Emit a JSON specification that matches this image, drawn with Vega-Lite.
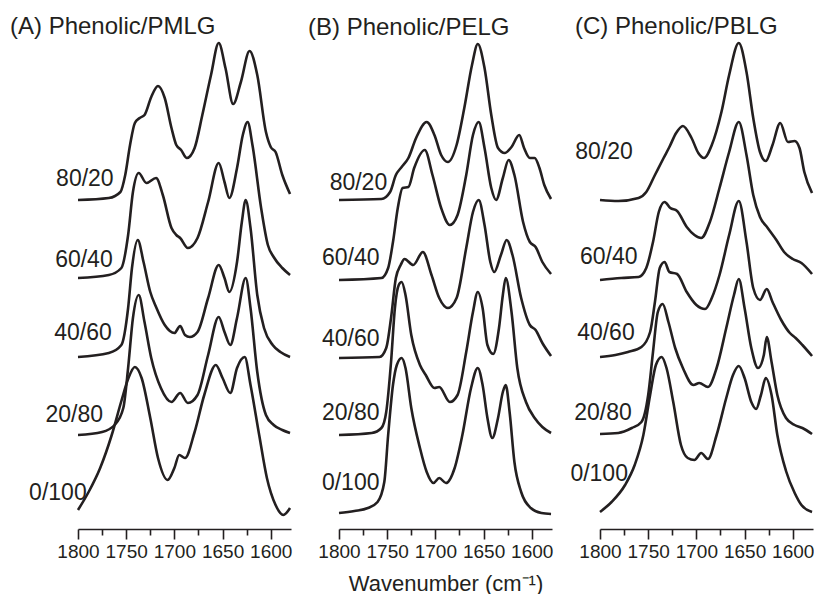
{
"$schema": "https://vega.github.io/schema/vega-lite/v6.json",
"padding": {"left": 10, "top": 14, "right": 0, "bottom": 0},
"background": "white",
"bounds": "flush",
"spacing": 48,
"config": {
 "view": {"stroke": null},
 "font": "Liberation Sans",
 "axisX": {
  "grid": false,
  "domainColor": "#231f20", "domainWidth": 1.6,
  "tickColor": "#231f20", "tickWidth": 1.6,
  "labelFontSize": 19, "labelColor": "#231f20", "labelPadding": 3,
  "labelFlush": false, "labelOverlap": false,
  "titleFontSize": 22, "titleFontWeight": "normal", "titleColor": "#231f20", "titlePadding": 12
 },
 "title": {"fontSize": 24, "fontWeight": "normal", "color": "#231f20", "anchor": "start", "frame": "group", "baseline": "alphabetic", "offset": -1}
},
"datasets": {
 "spectra": [
  {"p":"A","r":"80/20","wn":1800,"a":329},{"p":"A","r":"80/20","wn":1768,"a":331},{"p":"A","r":"80/20","wn":1756,"a":337},{"p":"A","r":"80/20","wn":1751,"a":354},{"p":"A","r":"80/20","wn":1746,"a":384},{"p":"A","r":"80/20","wn":1741,"a":406},{"p":"A","r":"80/20","wn":1736,"a":411},{"p":"A","r":"80/20","wn":1731,"a":414},{"p":"A","r":"80/20","wn":1724,"a":432},{"p":"A","r":"80/20","wn":1717,"a":443},{"p":"A","r":"80/20","wn":1710,"a":431},{"p":"A","r":"80/20","wn":1703,"a":401},{"p":"A","r":"80/20","wn":1698,"a":384},{"p":"A","r":"80/20","wn":1693,"a":379},{"p":"A","r":"80/20","wn":1687,"a":371},{"p":"A","r":"80/20","wn":1679,"a":381},{"p":"A","r":"80/20","wn":1671,"a":414},{"p":"A","r":"80/20","wn":1662,"a":454},{"p":"A","r":"80/20","wn":1654,"a":486},{"p":"A","r":"80/20","wn":1647,"a":461},{"p":"A","r":"80/20","wn":1639,"a":425},{"p":"A","r":"80/20","wn":1631,"a":447},{"p":"A","r":"80/20","wn":1622,"a":478},{"p":"A","r":"80/20","wn":1614,"a":454},{"p":"A","r":"80/20","wn":1605,"a":397},{"p":"A","r":"80/20","wn":1600,"a":382},{"p":"A","r":"80/20","wn":1595,"a":377},{"p":"A","r":"80/20","wn":1588,"a":354},{"p":"A","r":"80/20","wn":1580,"a":335},
  {"p":"A","r":"60/40","wn":1800,"a":251},{"p":"A","r":"60/40","wn":1768,"a":254},{"p":"A","r":"60/40","wn":1755,"a":261},{"p":"A","r":"60/40","wn":1748,"a":294},{"p":"A","r":"60/40","wn":1743,"a":337},{"p":"A","r":"60/40","wn":1737,"a":356},{"p":"A","r":"60/40","wn":1729,"a":346},{"p":"A","r":"60/40","wn":1719,"a":351},{"p":"A","r":"60/40","wn":1712,"a":334},{"p":"A","r":"60/40","wn":1703,"a":301},{"p":"A","r":"60/40","wn":1698,"a":294},{"p":"A","r":"60/40","wn":1694,"a":291},{"p":"A","r":"60/40","wn":1686,"a":281},{"p":"A","r":"60/40","wn":1676,"a":291},{"p":"A","r":"60/40","wn":1665,"a":327},{"p":"A","r":"60/40","wn":1654,"a":366},{"p":"A","r":"60/40","wn":1648,"a":347},{"p":"A","r":"60/40","wn":1643,"a":331},{"p":"A","r":"60/40","wn":1635,"a":361},{"p":"A","r":"60/40","wn":1629,"a":394},{"p":"A","r":"60/40","wn":1624,"a":407},{"p":"A","r":"60/40","wn":1619,"a":384},{"p":"A","r":"60/40","wn":1610,"a":321},{"p":"A","r":"60/40","wn":1603,"a":284},{"p":"A","r":"60/40","wn":1597,"a":272},{"p":"A","r":"60/40","wn":1588,"a":261},{"p":"A","r":"60/40","wn":1580,"a":254},
  {"p":"A","r":"40/60","wn":1800,"a":172},{"p":"A","r":"40/60","wn":1768,"a":176},{"p":"A","r":"40/60","wn":1755,"a":184},{"p":"A","r":"40/60","wn":1748,"a":221},{"p":"A","r":"40/60","wn":1744,"a":261},{"p":"A","r":"40/60","wn":1738,"a":289},{"p":"A","r":"40/60","wn":1732,"a":267},{"p":"A","r":"40/60","wn":1725,"a":237},{"p":"A","r":"40/60","wn":1719,"a":222},{"p":"A","r":"40/60","wn":1710,"a":204},{"p":"A","r":"40/60","wn":1700,"a":196},{"p":"A","r":"40/60","wn":1694,"a":203},{"p":"A","r":"40/60","wn":1689,"a":194},{"p":"A","r":"40/60","wn":1684,"a":192},{"p":"A","r":"40/60","wn":1676,"a":197},{"p":"A","r":"40/60","wn":1665,"a":231},{"p":"A","r":"40/60","wn":1654,"a":264},{"p":"A","r":"40/60","wn":1648,"a":251},{"p":"A","r":"40/60","wn":1643,"a":237},{"p":"A","r":"40/60","wn":1635,"a":267},{"p":"A","r":"40/60","wn":1630,"a":307},{"p":"A","r":"40/60","wn":1626,"a":329},{"p":"A","r":"40/60","wn":1621,"a":301},{"p":"A","r":"40/60","wn":1614,"a":234},{"p":"A","r":"40/60","wn":1607,"a":201},{"p":"A","r":"40/60","wn":1598,"a":184},{"p":"A","r":"40/60","wn":1590,"a":177},{"p":"A","r":"40/60","wn":1580,"a":172},
  {"p":"A","r":"20/80","wn":1800,"a":94},{"p":"A","r":"20/80","wn":1775,"a":97},{"p":"A","r":"20/80","wn":1762,"a":104},{"p":"A","r":"20/80","wn":1753,"a":121},{"p":"A","r":"20/80","wn":1748,"a":161},{"p":"A","r":"20/80","wn":1743,"a":211},{"p":"A","r":"20/80","wn":1737,"a":234},{"p":"A","r":"20/80","wn":1731,"a":207},{"p":"A","r":"20/80","wn":1724,"a":171},{"p":"A","r":"20/80","wn":1714,"a":141},{"p":"A","r":"20/80","wn":1703,"a":127},{"p":"A","r":"20/80","wn":1694,"a":136},{"p":"A","r":"20/80","wn":1686,"a":126},{"p":"A","r":"20/80","wn":1676,"a":134},{"p":"A","r":"20/80","wn":1665,"a":174},{"p":"A","r":"20/80","wn":1654,"a":212},{"p":"A","r":"20/80","wn":1648,"a":197},{"p":"A","r":"20/80","wn":1642,"a":184},{"p":"A","r":"20/80","wn":1635,"a":211},{"p":"A","r":"20/80","wn":1626,"a":251},{"p":"A","r":"20/80","wn":1621,"a":221},{"p":"A","r":"20/80","wn":1614,"a":157},{"p":"A","r":"20/80","wn":1605,"a":114},{"p":"A","r":"20/80","wn":1597,"a":104},{"p":"A","r":"20/80","wn":1588,"a":99},{"p":"A","r":"20/80","wn":1580,"a":96},
  {"p":"A","r":"0/100","wn":1800,"a":19},{"p":"A","r":"0/100","wn":1789,"a":37},{"p":"A","r":"0/100","wn":1777,"a":61},{"p":"A","r":"0/100","wn":1765,"a":94},{"p":"A","r":"0/100","wn":1755,"a":128},{"p":"A","r":"0/100","wn":1748,"a":150},{"p":"A","r":"0/100","wn":1741,"a":162},{"p":"A","r":"0/100","wn":1734,"a":151},{"p":"A","r":"0/100","wn":1725,"a":111},{"p":"A","r":"0/100","wn":1717,"a":71},{"p":"A","r":"0/100","wn":1707,"a":49},{"p":"A","r":"0/100","wn":1700,"a":61},{"p":"A","r":"0/100","wn":1695,"a":74},{"p":"A","r":"0/100","wn":1689,"a":71},{"p":"A","r":"0/100","wn":1679,"a":97},{"p":"A","r":"0/100","wn":1669,"a":134},{"p":"A","r":"0/100","wn":1657,"a":164},{"p":"A","r":"0/100","wn":1650,"a":151},{"p":"A","r":"0/100","wn":1642,"a":136},{"p":"A","r":"0/100","wn":1635,"a":161},{"p":"A","r":"0/100","wn":1627,"a":172},{"p":"A","r":"0/100","wn":1621,"a":144},{"p":"A","r":"0/100","wn":1612,"a":94},{"p":"A","r":"0/100","wn":1604,"a":51},{"p":"A","r":"0/100","wn":1595,"a":24},{"p":"A","r":"0/100","wn":1587,"a":14},{"p":"A","r":"0/100","wn":1580,"a":21},

  {"p":"B","r":"80/20","wn":1800,"a":329},{"p":"B","r":"80/20","wn":1756,"a":330},{"p":"B","r":"80/20","wn":1747,"a":337},{"p":"B","r":"80/20","wn":1741,"a":354},{"p":"B","r":"80/20","wn":1735,"a":362},{"p":"B","r":"80/20","wn":1728,"a":371},{"p":"B","r":"80/20","wn":1720,"a":391},{"p":"B","r":"80/20","wn":1709,"a":407},{"p":"B","r":"80/20","wn":1701,"a":394},{"p":"B","r":"80/20","wn":1694,"a":374},{"p":"B","r":"80/20","wn":1687,"a":367},{"p":"B","r":"80/20","wn":1678,"a":384},{"p":"B","r":"80/20","wn":1670,"a":421},{"p":"B","r":"80/20","wn":1662,"a":464},{"p":"B","r":"80/20","wn":1656,"a":485},{"p":"B","r":"80/20","wn":1649,"a":461},{"p":"B","r":"80/20","wn":1642,"a":414},{"p":"B","r":"80/20","wn":1635,"a":381},{"p":"B","r":"80/20","wn":1628,"a":376},{"p":"B","r":"80/20","wn":1621,"a":382},{"p":"B","r":"80/20","wn":1613,"a":394},{"p":"B","r":"80/20","wn":1608,"a":381},{"p":"B","r":"80/20","wn":1602,"a":371},{"p":"B","r":"80/20","wn":1597,"a":371},{"p":"B","r":"80/20","wn":1592,"a":361},{"p":"B","r":"80/20","wn":1587,"a":344},{"p":"B","r":"80/20","wn":1580,"a":330},
  {"p":"B","r":"60/40","wn":1800,"a":249},{"p":"B","r":"60/40","wn":1756,"a":251},{"p":"B","r":"60/40","wn":1749,"a":261},{"p":"B","r":"60/40","wn":1744,"a":287},{"p":"B","r":"60/40","wn":1739,"a":321},{"p":"B","r":"60/40","wn":1734,"a":341},{"p":"B","r":"60/40","wn":1728,"a":342},{"p":"B","r":"60/40","wn":1722,"a":361},{"p":"B","r":"60/40","wn":1711,"a":379},{"p":"B","r":"60/40","wn":1703,"a":354},{"p":"B","r":"60/40","wn":1694,"a":321},{"p":"B","r":"60/40","wn":1685,"a":304},{"p":"B","r":"60/40","wn":1677,"a":314},{"p":"B","r":"60/40","wn":1668,"a":354},{"p":"B","r":"60/40","wn":1661,"a":394},{"p":"B","r":"60/40","wn":1655,"a":407},{"p":"B","r":"60/40","wn":1649,"a":381},{"p":"B","r":"60/40","wn":1642,"a":341},{"p":"B","r":"60/40","wn":1637,"a":329},{"p":"B","r":"60/40","wn":1630,"a":351},{"p":"B","r":"60/40","wn":1624,"a":369},{"p":"B","r":"60/40","wn":1618,"a":354},{"p":"B","r":"60/40","wn":1609,"a":307},{"p":"B","r":"60/40","wn":1602,"a":287},{"p":"B","r":"60/40","wn":1596,"a":282},{"p":"B","r":"60/40","wn":1589,"a":267},{"p":"B","r":"60/40","wn":1580,"a":255},
  {"p":"B","r":"40/60","wn":1800,"a":171},{"p":"B","r":"40/60","wn":1758,"a":172},{"p":"B","r":"40/60","wn":1751,"a":181},{"p":"B","r":"40/60","wn":1746,"a":211},{"p":"B","r":"40/60","wn":1741,"a":251},{"p":"B","r":"40/60","wn":1736,"a":264},{"p":"B","r":"40/60","wn":1732,"a":270},{"p":"B","r":"40/60","wn":1723,"a":264},{"p":"B","r":"40/60","wn":1713,"a":277},{"p":"B","r":"40/60","wn":1704,"a":254},{"p":"B","r":"40/60","wn":1696,"a":231},{"p":"B","r":"40/60","wn":1687,"a":221},{"p":"B","r":"40/60","wn":1678,"a":231},{"p":"B","r":"40/60","wn":1668,"a":281},{"p":"B","r":"40/60","wn":1661,"a":317},{"p":"B","r":"40/60","wn":1655,"a":329},{"p":"B","r":"40/60","wn":1649,"a":304},{"p":"B","r":"40/60","wn":1643,"a":267},{"p":"B","r":"40/60","wn":1639,"a":257},{"p":"B","r":"40/60","wn":1632,"a":274},{"p":"B","r":"40/60","wn":1626,"a":289},{"p":"B","r":"40/60","wn":1620,"a":274},{"p":"B","r":"40/60","wn":1611,"a":231},{"p":"B","r":"40/60","wn":1602,"a":204},{"p":"B","r":"40/60","wn":1596,"a":199},{"p":"B","r":"40/60","wn":1589,"a":186},{"p":"B","r":"40/60","wn":1580,"a":173},
  {"p":"B","r":"20/80","wn":1800,"a":94},{"p":"B","r":"20/80","wn":1766,"a":96},{"p":"B","r":"20/80","wn":1756,"a":101},{"p":"B","r":"20/80","wn":1751,"a":117},{"p":"B","r":"20/80","wn":1746,"a":167},{"p":"B","r":"20/80","wn":1742,"a":221},{"p":"B","r":"20/80","wn":1738,"a":244},{"p":"B","r":"20/80","wn":1735,"a":247},{"p":"B","r":"20/80","wn":1731,"a":234},{"p":"B","r":"20/80","wn":1725,"a":194},{"p":"B","r":"20/80","wn":1716,"a":164},{"p":"B","r":"20/80","wn":1710,"a":154},{"p":"B","r":"20/80","wn":1701,"a":141},{"p":"B","r":"20/80","wn":1696,"a":142},{"p":"B","r":"20/80","wn":1685,"a":127},{"p":"B","r":"20/80","wn":1677,"a":134},{"p":"B","r":"20/80","wn":1668,"a":177},{"p":"B","r":"20/80","wn":1661,"a":217},{"p":"B","r":"20/80","wn":1656,"a":237},{"p":"B","r":"20/80","wn":1651,"a":221},{"p":"B","r":"20/80","wn":1646,"a":184},{"p":"B","r":"20/80","wn":1640,"a":175},{"p":"B","r":"20/80","wn":1634,"a":201},{"p":"B","r":"20/80","wn":1630,"a":234},{"p":"B","r":"20/80","wn":1627,"a":251},{"p":"B","r":"20/80","wn":1621,"a":217},{"p":"B","r":"20/80","wn":1615,"a":161},{"p":"B","r":"20/80","wn":1606,"a":127},{"p":"B","r":"20/80","wn":1597,"a":111},{"p":"B","r":"20/80","wn":1589,"a":102},{"p":"B","r":"20/80","wn":1580,"a":96},
  {"p":"B","r":"0/100","wn":1800,"a":16},{"p":"B","r":"0/100","wn":1784,"a":18},{"p":"B","r":"0/100","wn":1770,"a":21},{"p":"B","r":"0/100","wn":1760,"a":27},{"p":"B","r":"0/100","wn":1753,"a":47},{"p":"B","r":"0/100","wn":1749,"a":94},{"p":"B","r":"0/100","wn":1744,"a":144},{"p":"B","r":"0/100","wn":1740,"a":164},{"p":"B","r":"0/100","wn":1735,"a":171},{"p":"B","r":"0/100","wn":1731,"a":161},{"p":"B","r":"0/100","wn":1725,"a":121},{"p":"B","r":"0/100","wn":1716,"a":81},{"p":"B","r":"0/100","wn":1709,"a":57},{"p":"B","r":"0/100","wn":1702,"a":46},{"p":"B","r":"0/100","wn":1696,"a":51},{"p":"B","r":"0/100","wn":1689,"a":46},{"p":"B","r":"0/100","wn":1680,"a":61},{"p":"B","r":"0/100","wn":1672,"a":94},{"p":"B","r":"0/100","wn":1663,"a":141},{"p":"B","r":"0/100","wn":1656,"a":161},{"p":"B","r":"0/100","wn":1651,"a":144},{"p":"B","r":"0/100","wn":1646,"a":111},{"p":"B","r":"0/100","wn":1641,"a":91},{"p":"B","r":"0/100","wn":1635,"a":111},{"p":"B","r":"0/100","wn":1630,"a":137},{"p":"B","r":"0/100","wn":1627,"a":144},{"p":"B","r":"0/100","wn":1623,"a":117},{"p":"B","r":"0/100","wn":1618,"a":67},{"p":"B","r":"0/100","wn":1611,"a":37},{"p":"B","r":"0/100","wn":1601,"a":21},{"p":"B","r":"0/100","wn":1590,"a":16},{"p":"B","r":"0/100","wn":1580,"a":15},

  {"p":"C","r":"80/20","wn":1800,"a":329},{"p":"C","r":"80/20","wn":1781,"a":328},{"p":"C","r":"80/20","wn":1760,"a":331},{"p":"C","r":"80/20","wn":1752,"a":337},{"p":"C","r":"80/20","wn":1743,"a":354},{"p":"C","r":"80/20","wn":1734,"a":371},{"p":"C","r":"80/20","wn":1728,"a":382},{"p":"C","r":"80/20","wn":1721,"a":396},{"p":"C","r":"80/20","wn":1714,"a":403},{"p":"C","r":"80/20","wn":1705,"a":391},{"p":"C","r":"80/20","wn":1698,"a":376},{"p":"C","r":"80/20","wn":1692,"a":371},{"p":"C","r":"80/20","wn":1684,"a":384},{"p":"C","r":"80/20","wn":1674,"a":417},{"p":"C","r":"80/20","wn":1666,"a":454},{"p":"C","r":"80/20","wn":1656,"a":486},{"p":"C","r":"80/20","wn":1648,"a":457},{"p":"C","r":"80/20","wn":1641,"a":411},{"p":"C","r":"80/20","wn":1634,"a":377},{"p":"C","r":"80/20","wn":1628,"a":368},{"p":"C","r":"80/20","wn":1621,"a":384},{"p":"C","r":"80/20","wn":1613,"a":406},{"p":"C","r":"80/20","wn":1605,"a":387},{"p":"C","r":"80/20","wn":1598,"a":388},{"p":"C","r":"80/20","wn":1593,"a":381},{"p":"C","r":"80/20","wn":1588,"a":357},{"p":"C","r":"80/20","wn":1580,"a":336},
  {"p":"C","r":"60/40","wn":1800,"a":249},{"p":"C","r":"60/40","wn":1778,"a":251},{"p":"C","r":"60/40","wn":1760,"a":252},{"p":"C","r":"60/40","wn":1752,"a":261},{"p":"C","r":"60/40","wn":1745,"a":287},{"p":"C","r":"60/40","wn":1739,"a":317},{"p":"C","r":"60/40","wn":1733,"a":327},{"p":"C","r":"60/40","wn":1727,"a":321},{"p":"C","r":"60/40","wn":1720,"a":318},{"p":"C","r":"60/40","wn":1710,"a":302},{"p":"C","r":"60/40","wn":1702,"a":294},{"p":"C","r":"60/40","wn":1695,"a":291},{"p":"C","r":"60/40","wn":1686,"a":307},{"p":"C","r":"60/40","wn":1676,"a":341},{"p":"C","r":"60/40","wn":1666,"a":377},{"p":"C","r":"60/40","wn":1656,"a":407},{"p":"C","r":"60/40","wn":1648,"a":374},{"p":"C","r":"60/40","wn":1641,"a":334},{"p":"C","r":"60/40","wn":1634,"a":312},{"p":"C","r":"60/40","wn":1626,"a":301},{"p":"C","r":"60/40","wn":1617,"a":289},{"p":"C","r":"60/40","wn":1609,"a":277},{"p":"C","r":"60/40","wn":1600,"a":270},{"p":"C","r":"60/40","wn":1591,"a":266},{"p":"C","r":"60/40","wn":1580,"a":255},
  {"p":"C","r":"40/60","wn":1800,"a":172},{"p":"C","r":"40/60","wn":1784,"a":174},{"p":"C","r":"40/60","wn":1771,"a":177},{"p":"C","r":"40/60","wn":1757,"a":182},{"p":"C","r":"40/60","wn":1748,"a":197},{"p":"C","r":"40/60","wn":1743,"a":227},{"p":"C","r":"40/60","wn":1738,"a":261},{"p":"C","r":"40/60","wn":1733,"a":267},{"p":"C","r":"40/60","wn":1728,"a":257},{"p":"C","r":"40/60","wn":1720,"a":255},{"p":"C","r":"40/60","wn":1710,"a":237},{"p":"C","r":"40/60","wn":1700,"a":224},{"p":"C","r":"40/60","wn":1691,"a":220},{"p":"C","r":"40/60","wn":1684,"a":231},{"p":"C","r":"40/60","wn":1676,"a":254},{"p":"C","r":"40/60","wn":1666,"a":294},{"p":"C","r":"40/60","wn":1656,"a":328},{"p":"C","r":"40/60","wn":1648,"a":287},{"p":"C","r":"40/60","wn":1641,"a":241},{"p":"C","r":"40/60","wn":1634,"a":229},{"p":"C","r":"40/60","wn":1627,"a":240},{"p":"C","r":"40/60","wn":1621,"a":227},{"p":"C","r":"40/60","wn":1612,"a":209},{"p":"C","r":"40/60","wn":1603,"a":196},{"p":"C","r":"40/60","wn":1597,"a":191},{"p":"C","r":"40/60","wn":1590,"a":184},{"p":"C","r":"40/60","wn":1580,"a":173},
  {"p":"C","r":"20/80","wn":1800,"a":95},{"p":"C","r":"20/80","wn":1781,"a":96},{"p":"C","r":"20/80","wn":1767,"a":101},{"p":"C","r":"20/80","wn":1757,"a":107},{"p":"C","r":"20/80","wn":1750,"a":134},{"p":"C","r":"20/80","wn":1745,"a":177},{"p":"C","r":"20/80","wn":1740,"a":217},{"p":"C","r":"20/80","wn":1735,"a":225},{"p":"C","r":"20/80","wn":1729,"a":207},{"p":"C","r":"20/80","wn":1722,"a":181},{"p":"C","r":"20/80","wn":1714,"a":161},{"p":"C","r":"20/80","wn":1703,"a":144},{"p":"C","r":"20/80","wn":1697,"a":146},{"p":"C","r":"20/80","wn":1688,"a":142},{"p":"C","r":"20/80","wn":1679,"a":161},{"p":"C","r":"20/80","wn":1669,"a":201},{"p":"C","r":"20/80","wn":1661,"a":234},{"p":"C","r":"20/80","wn":1656,"a":250},{"p":"C","r":"20/80","wn":1650,"a":221},{"p":"C","r":"20/80","wn":1643,"a":181},{"p":"C","r":"20/80","wn":1636,"a":161},{"p":"C","r":"20/80","wn":1630,"a":174},{"p":"C","r":"20/80","wn":1627,"a":192},{"p":"C","r":"20/80","wn":1622,"a":167},{"p":"C","r":"20/80","wn":1616,"a":134},{"p":"C","r":"20/80","wn":1607,"a":111},{"p":"C","r":"20/80","wn":1598,"a":104},{"p":"C","r":"20/80","wn":1590,"a":101},{"p":"C","r":"20/80","wn":1580,"a":95},
  {"p":"C","r":"0/100","wn":1800,"a":17},{"p":"C","r":"0/100","wn":1788,"a":27},{"p":"C","r":"0/100","wn":1774,"a":44},{"p":"C","r":"0/100","wn":1764,"a":64},{"p":"C","r":"0/100","wn":1755,"a":94},{"p":"C","r":"0/100","wn":1748,"a":134},{"p":"C","r":"0/100","wn":1742,"a":164},{"p":"C","r":"0/100","wn":1736,"a":172},{"p":"C","r":"0/100","wn":1731,"a":161},{"p":"C","r":"0/100","wn":1724,"a":127},{"p":"C","r":"0/100","wn":1716,"a":84},{"p":"C","r":"0/100","wn":1709,"a":71},{"p":"C","r":"0/100","wn":1702,"a":69},{"p":"C","r":"0/100","wn":1695,"a":76},{"p":"C","r":"0/100","wn":1688,"a":70},{"p":"C","r":"0/100","wn":1679,"a":94},{"p":"C","r":"0/100","wn":1669,"a":131},{"p":"C","r":"0/100","wn":1662,"a":154},{"p":"C","r":"0/100","wn":1656,"a":163},{"p":"C","r":"0/100","wn":1650,"a":151},{"p":"C","r":"0/100","wn":1643,"a":127},{"p":"C","r":"0/100","wn":1638,"a":120},{"p":"C","r":"0/100","wn":1633,"a":134},{"p":"C","r":"0/100","wn":1628,"a":151},{"p":"C","r":"0/100","wn":1622,"a":134},{"p":"C","r":"0/100","wn":1616,"a":94},{"p":"C","r":"0/100","wn":1607,"a":58},{"p":"C","r":"0/100","wn":1598,"a":36},{"p":"C","r":"0/100","wn":1591,"a":24},{"p":"C","r":"0/100","wn":1580,"a":17}
 ],
 "labels": [
  {"p":"A","r":"80/20","wn":1763,"a":350},{"p":"A","r":"60/40","wn":1764,"a":269},{"p":"A","r":"40/60","wn":1765,"a":196},{"p":"A","r":"20/80","wn":1774,"a":114},{"p":"A","r":"0/100","wn":1791,"a":36},
  {"p":"B","r":"80/20","wn":1750,"a":346},{"p":"B","r":"60/40","wn":1758,"a":271},{"p":"B","r":"40/60","wn":1758,"a":190},{"p":"B","r":"20/80","wn":1758,"a":116},{"p":"B","r":"0/100","wn":1758,"a":46},
  {"p":"C","r":"80/20","wn":1766,"a":377},{"p":"C","r":"60/40","wn":1761,"a":272},{"p":"C","r":"40/60","wn":1764,"a":196},{"p":"C","r":"20/80","wn":1767,"a":116},{"p":"C","r":"0/100","wn":1771,"a":55}
 ]
},
"hconcat": [
 {
  "width": 213, "height": 489,
  "title": {"text": "(A) Phenolic/PMLG", "dx": -68},
  "resolve": {"axis": {"x": "independent"}},
  "layer": [
   {"data": {"name": "spectra"}, "transform": [{"filter": "datum.p === 'A'"}],
    "mark": {"type": "line", "interpolate": "monotone", "strokeWidth": 2.6, "color": "#231f20"},
    "encoding": {
     "x": {"field": "wn", "type": "quantitative", "scale": {"domain": [1579, 1800], "reverse": true, "nice": false, "zero": false},
      "axis": {"title": null, "orient": "bottom", "values": [1800,1750,1700,1650,1600], "format": "d", "tickSize": 10}},
     "y": {"field": "a", "type": "quantitative", "scale": {"domain": [0, 489], "nice": false}, "axis": null},
     "detail": {"field": "r"}}},
   {"data": {"name": "labels"}, "transform": [{"filter": "datum.p === 'A'"}],
    "mark": {"type": "text", "align": "right", "baseline": "middle", "fontSize": 23, "color": "#231f20"},
    "encoding": {"x": {"field": "wn", "type": "quantitative", "axis": {"title": null, "orient": "bottom", "values": [1775,1725,1675,1625], "labels": false, "domain": false, "tickSize": 6}}, "y": {"field": "a", "type": "quantitative"}, "text": {"field": "r"}}}
  ]
 },
 {
  "width": 213, "height": 489,
  "title": {"text": "(B) Phenolic/PELG", "dx": -31},
  "resolve": {"axis": {"x": "independent"}},
  "layer": [
   {"data": {"name": "spectra"}, "transform": [{"filter": "datum.p === 'B'"}],
    "mark": {"type": "line", "interpolate": "monotone", "strokeWidth": 2.6, "color": "#231f20"},
    "encoding": {
     "x": {"field": "wn", "type": "quantitative", "scale": {"domain": [1579, 1800], "reverse": true, "nice": false, "zero": false},
      "axis": {"title": "Wavenumber (cm⁻¹)", "orient": "bottom", "values": [1800,1750,1700,1650,1600], "format": "d", "tickSize": 10}},
     "y": {"field": "a", "type": "quantitative", "scale": {"domain": [0, 489], "nice": false}, "axis": null},
     "detail": {"field": "r"}}},
   {"data": {"name": "labels"}, "transform": [{"filter": "datum.p === 'B'"}],
    "mark": {"type": "text", "align": "right", "baseline": "middle", "fontSize": 23, "color": "#231f20"},
    "encoding": {"x": {"field": "wn", "type": "quantitative", "axis": {"title": null, "orient": "bottom", "values": [1775,1725,1675,1625], "labels": false, "domain": false, "tickSize": 6}}, "y": {"field": "a", "type": "quantitative"}, "text": {"field": "r"}}}
  ]
 },
 {
  "width": 213, "height": 489,
  "title": {"text": "(C) Phenolic/PBLG", "dx": -25},
  "resolve": {"axis": {"x": "independent"}},
  "layer": [
   {"data": {"name": "spectra"}, "transform": [{"filter": "datum.p === 'C'"}],
    "mark": {"type": "line", "interpolate": "monotone", "strokeWidth": 2.6, "color": "#231f20"},
    "encoding": {
     "x": {"field": "wn", "type": "quantitative", "scale": {"domain": [1579, 1800], "reverse": true, "nice": false, "zero": false},
      "axis": {"title": null, "orient": "bottom", "values": [1800,1750,1700,1650,1600], "format": "d", "tickSize": 10}},
     "y": {"field": "a", "type": "quantitative", "scale": {"domain": [0, 489], "nice": false}, "axis": null},
     "detail": {"field": "r"}}},
   {"data": {"name": "labels"}, "transform": [{"filter": "datum.p === 'C'"}],
    "mark": {"type": "text", "align": "right", "baseline": "middle", "fontSize": 23, "color": "#231f20"},
    "encoding": {"x": {"field": "wn", "type": "quantitative", "axis": {"title": null, "orient": "bottom", "values": [1775,1725,1675,1625], "labels": false, "domain": false, "tickSize": 6}}, "y": {"field": "a", "type": "quantitative"}, "text": {"field": "r"}}}
  ]
 }
]
}
